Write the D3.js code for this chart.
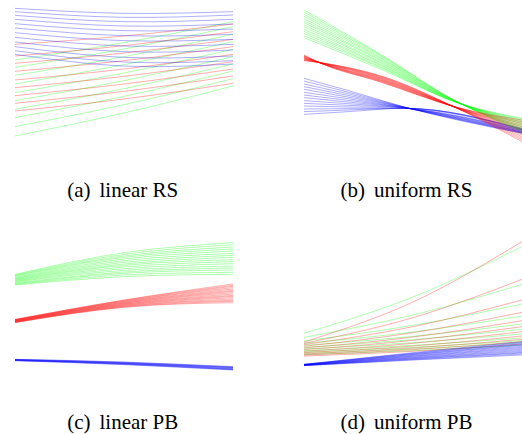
<!DOCTYPE html>
<html>
<head>
<meta charset="utf-8">
<script src="https://cdn.jsdelivr.net/npm/d3@7"></script>
<style>
  html, body { margin: 0; padding: 0; background: #fff; }
  svg { display: block; }
  text { font-family: "Liberation Serif", "Times New Roman", serif; }
</style>
</head>
<body>
<svg id="chart" width="522" height="434"></svg>
<script>
// ---------- data (x positions along each panel, y values per curve) ----------
const xA = [0, 0.5, 1];
const aBlue = [
  [395,380,385],[385,368,375],[374,355,362],[362,342,348],[349,328,333],[336,313,317],
  [322,298,302],[308,282,287],[294,265,270],[280,248,252],[268,234,238],[257,222,228]
];
const aRed = [
  [287,312,348],[252,283,325],[230,261,302],[206,238,280],[180,213,257],
  [157,191,235],[133,168,213],[110,146,192],[87,123,170]
];
const aGreen = [
  [240,292,355],[218,273,340],[194,250,317],[168,226,295],[142,201,272],
  [118,178,250],[92,154,228],[67,131,207],[40,106,184],[12,81,162]
];

const xBGreen = [0, 0.35, 0.69, 1];
const bGreen = [
  [390,258,119,25],[384,255,119,28],[377,252,118,31],[371,248,118,34],[364,245,118,37],
  [358,241,117,40],[352,238,117,43],[345,234,117,47],[339,231,116,50],[332,227,116,53],
  [326,224,116,56],[320,220,115,59],[313,217,115,62],[307,213,115,65]
];
const xBRed = [0, 0.075, 0.35, 0.7, 1];
const bRed = [
  [255,231,174,98,60],[254,231,175,98,55],[252,231,177,98,50],[251,231,178,97,45],
  [250,231,180,97,40],[248,231,181,97,35],[247,231,183,97,30],[246,232,184,97,25],
  [244,232,186,96,20],[243,232,187,96,15],[242,232,189,96,10],[240,232,190,96,5],
  [239,232,192,96,0],[238,232,193,96,-5]
];
const xBBlue = [0, 0.2, 0.46, 1];
const bBlue = [
  [185,149,99,20],[177,144,99,21],[168,139,98,22],[160,134,98,23],[152,129,98,24],
  [143,124,97,25],[135,119,97,26],[127,114,97,28],[118,109,96,29],[110,104,96,30],
  [102,99,96,31],[93,94,95,32],[85,90,95,33],[77,85,95,34]
];

const xC = [0, 0.5, 1];
const cGreen = [
  [287,352,382],[285,347,376],[283,342,369],[281,338,363],[278,333,357],[276,328,350],
  [274,323,344],[272,318,338],[270,314,331],[268,309,325],[266,304,319],[264,299,312],
  [261,294,306],[259,290,300],[257,285,293],[255,280,287]
];
const cRed = [
  [152,210,258],[151,209,254],[151,207,251],[150,206,247],[149,204,243],[149,203,239],
  [148,201,236],[147,200,232],[147,198,228],[146,197,224],[145,195,221],[145,194,217],
  [144,192,213],[143,191,209],[143,189,206],[142,188,202]
];
const cBlue = [
  [32,24,10],[32,23,9],[31,22,8],[31,21,7],[30,20,6],
  [30,20,4],[29,19,3],[29,18,2],[28,17,1],[28,16,0]
];

const xD = [0, 0.5, 1];
const dBlue = [
  [17,52,85],[17,50,82],[17,49,79],[16,47,76],[16,46,74],[16,44,71],[15,42,68],[15,41,65],
  [15,39,62],[15,37,59],[14,36,56],[14,34,53],[14,33,51],[13,31,48],[13,30,45]
];
const dGreen = [
  [110,219,370],[98,165,257],[87,134,198],[80,114,162],[74,101,138],[68,91,122],
  [63,82,108],[58,74,96],[54,68,88],[50,63,82],[46,58,75]
];
const dRed = [
  [84,204,385],[80,157,272],[76,130,210],[71,112,173],[66,99,148],[61,89,130],
  [56,80,115],[52,72,102],[48,66,92],[45,61,85],[42,56,78]
];

const captionTags = ["(a)", "(b)", "(c)", "(d)"];
const captionNames = ["linear RS", "uniform RS", "linear PB", "uniform PB"];

// ---------- layout ----------
const svg = d3.select("#chart");
const colX = [[15, 233], [304, 522]];
const rowTop = [0, 230];
const panelH = 140;
const captionCenterX = [122.7, 406.5];
const captionBaseline = [197, 429];

const colors = { blue: "#0000ff", red: "#ff0000", green: "#00ff00" };

const panels = [
  { col: 0, row: 0, series: [
      { xs: xA, data: aGreen, color: colors.green, curve: d3.curveNatural },
      { xs: xA, data: aRed, color: colors.red, curve: d3.curveNatural },
      { xs: xA, data: aBlue, color: colors.blue, curve: d3.curveNatural } ] },
  { col: 1, row: 0, series: [
      { xs: xBBlue, data: bBlue, color: colors.blue, curve: d3.curveMonotoneX },
      { xs: xBGreen, data: bGreen, color: colors.green, curve: d3.curveMonotoneX },
      { xs: xBRed, data: bRed, color: colors.red, curve: d3.curveMonotoneX } ] },
  { col: 0, row: 1, series: [
      { xs: xC, data: cGreen, color: colors.green, curve: d3.curveNatural },
      { xs: xC, data: cRed, color: colors.red, curve: d3.curveNatural },
      { xs: xC, data: cBlue, color: colors.blue, curve: d3.curveNatural } ] },
  { col: 1, row: 1, series: [
      { xs: xD, data: dGreen, color: colors.green, curve: d3.curveNatural },
      { xs: xD, data: dRed, color: colors.red, curve: d3.curveNatural },
      { xs: xD, data: dBlue, color: colors.blue, curve: d3.curveNatural } ] }
];

panels.forEach((p, i) => {
  const x = d3.scaleLinear().domain([0, 1]).range(colX[p.col]);
  const y = d3.scaleLinear().domain([0, 420]).range([rowTop[p.row] + panelH, rowTop[p.row]]);
  const g = svg.append("g").attr("class", "panel-" + i);
  p.series.forEach(s => {
    const line = d3.line()
      .x((d, k) => x(s.xs[k]))
      .y(d => y(d))
      .curve(s.curve);
    g.append("g").selectAll("path")
      .data(s.data)
      .join("path")
      .attr("d", d => line(d))
      .attr("fill", "none")
      .attr("stroke", s.color)
      .attr("stroke-opacity", 0.8)
      .attr("stroke-width", 0.4);
  });
});

// captions
panels.forEach((p, i) => {
  const t = svg.append("text")
    .attr("x", captionCenterX[p.col])
    .attr("y", captionBaseline[p.row])
    .attr("text-anchor", "middle")
    .attr("font-size", 21)
    .attr("fill", "#000");
  t.append("tspan").text(captionTags[i]);
  t.append("tspan").attr("dx", 9).text(captionNames[i]);
});
</script>
</body>
</html>
